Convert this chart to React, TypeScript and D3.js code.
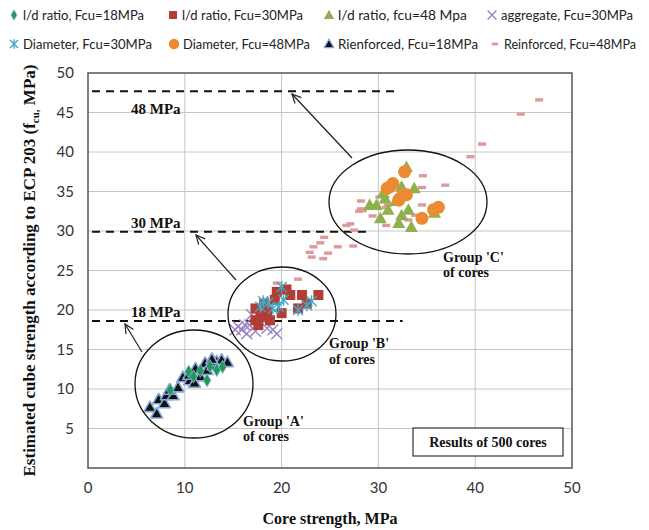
import React from "react";
import * as d3 from "d3";

type P = [number, number];

// l/d ratio, Fcu=18MPa
const ld18: P[] = [[8.5, 9.9], [10.4, 12.2], [10.9, 11.6], [11.6, 12.3], [12.3, 11.1], [13.3, 12.4], [13.9, 12.8], [12.6, 12.9]];
// l/d ratio, Fcu=30MPa
const ld30: P[] = [[19.5, 22.3], [20.9, 21.9], [22.1, 21.9], [23.8, 21.9], [19.3, 21.3], [17.3, 20.2], [18.5, 19.8], [17.8, 19.2], [20.0, 19.6], [17.3, 18.7], [17.6, 18.1], [18.8, 18.7], [22.6, 20.8], [21.7, 20.2], [18.2, 20.8], [20.5, 22.6]];
// l/d ratio, fcu=48 Mpa
const ld48: P[] = [[32.9, 38.1], [30.5, 34.8], [32.4, 35.6], [33.7, 35.4], [29.1, 33.3], [29.8, 33.3], [30.7, 34.1], [31.0, 32.7], [30.2, 31.6], [32.1, 31.0], [32.4, 32.0], [33.1, 32.7], [33.4, 30.5], [35.8, 32.3], [31.8, 33.8]];
// aggregate, Fcu=30MPa
const agg30: P[] = [[15.5, 17.9], [16.2, 18.1], [16.7, 18.1], [17.4, 18.1], [18.1, 18.7], [19.1, 17.5], [18.5, 17.7], [15.2, 17.5], [15.9, 17.5], [17.3, 17.3], [17.8, 19.8], [16.9, 19.4], [19.5, 17.0], [16.4, 17.0]];
// Diameter, Fcu=30MPa
const dia30: P[] = [[20.0, 22.9], [18.1, 21.1], [20.2, 21.3], [19.1, 20.2], [23.1, 21.1], [22.6, 20.6], [21.7, 20.0], [17.8, 20.4], [19.7, 20.4], [18.6, 20.9]];
// Diameter, Fcu=48MPa
const dia48: P[] = [[32.7, 37.5], [31.2, 35.6], [31.5, 36.0], [30.9, 35.4], [32.2, 34.1], [32.6, 34.6], [32.9, 34.6], [32.1, 33.9], [34.5, 31.6], [35.7, 32.7], [36.2, 33.0]];
// Rienforced, Fcu=18MPa
const rein18: P[] = [[6.4, 7.7], [7.1, 6.9], [7.3, 8.7], [7.9, 8.2], [8.1, 9.2], [8.8, 9.2], [8.4, 9.9], [9.3, 10.2], [9.8, 11.5], [10.5, 11.1], [10.4, 11.8], [11.1, 12.6], [11.6, 11.6], [12.1, 13.3], [12.3, 12.4], [12.9, 13.0], [13.3, 13.5], [13.8, 13.7], [12.8, 13.8], [11.0, 10.8], [14.4, 13.4]];
// Reinforced, Fcu=48MPa
const rein48: P[] = [[46.6, 46.6], [44.7, 44.8], [40.7, 41.0], [39.5, 39.4], [34.6, 37.0], [36.9, 35.8], [34.5, 35.5], [30.1, 34.3], [28.2, 33.8], [28.2, 32.8], [28.4, 32.6], [28.0, 32.5], [31.0, 33.3], [30.8, 33.0], [29.4, 31.9], [34.5, 33.3], [33.8, 32.0], [33.1, 31.4], [30.8, 30.7], [26.7, 30.7], [27.1, 30.9], [27.5, 30.1], [24.4, 29.2], [24.0, 28.5], [23.3, 28.0], [25.8, 28.0], [27.4, 28.1], [24.8, 27.2], [22.9, 27.3], [23.1, 26.7], [24.3, 26.5], [19.5, 23.4], [21.7, 23.9]];

const xTicks = [0, 10, 20, 30, 40, 50];
const yTicks = [5, 10, 15, 20, 25, 30, 35, 40, 45, 50];

// Reference strength levels: value, dashed line end (x), label and its baseline value
const refLevels = [
  { v: 47.7, end: 32.2, label: "48 MPa", labelY: 45.5 },
  { v: 29.9, end: 29.1, label: "30 MPa", labelY: 31.0 },
  { v: 18.6, end: 32.5, label: "18 MPa", labelY: 19.8 },
];

const W = 649;
const H = 530;
const left = 88, right = 572, top = 73, bottom = 468;

const x = d3.scaleLinear().domain([0, 50]).range([left, right]);
const y = d3.scaleLinear().domain([0, 50]).range([bottom, top]);

const SERIF = "'Liberation Serif', 'Times New Roman', serif";
const SANS = "Lato, 'Open Sans', 'Liberation Sans', sans-serif";

type Kind = "diamond" | "square" | "triangle" | "x" | "asterisk" | "circle" | "btriangle" | "dash";

const C = {
  diamond: "#1f9a55",
  square: "#b23d35",
  triangle: "#8fb04d",
  x: "#9a84c2",
  asterisk: "#3eaac6",
  circle: "#ec8a33",
  btriangle: "#111111",
  dash: "#dd9a9a",
};

function Marker({ kind, cx, cy, s = 1 }: { kind: Kind; cx: number; cy: number; s?: number }) {
  switch (kind) {
    case "diamond":
      return <path d={d3.symbol(d3.symbolDiamond, 50 * s * s)()!} transform={`translate(${cx},${cy})`} fill={C.diamond} stroke="#8fb2e0" strokeWidth={0.8} />;
    case "square":
      return <rect x={cx - 5 * s} y={cy - 5 * s} width={10 * s} height={10 * s} fill={C.square} />;
    case "triangle":
      return <path d={`M${cx},${cy - 6.5 * s}L${cx + 6.5 * s},${cy + 5 * s}L${cx - 6.5 * s},${cy + 5 * s}Z`} fill={C.triangle} />;
    case "btriangle":
      return <path d={`M${cx},${cy - 6 * s}L${cx + 6 * s},${cy + 4.5 * s}L${cx - 6 * s},${cy + 4.5 * s}Z`} fill={C.btriangle} stroke="#86a8d8" strokeWidth={1.6 * s} strokeLinejoin="round" />;
    case "x":
      return (
        <g stroke={C.x} strokeWidth={1.4}>
          <line x1={cx - 5.5 * s} y1={cy - 5.5 * s} x2={cx + 5.5 * s} y2={cy + 5.5 * s} />
          <line x1={cx - 5.5 * s} y1={cy + 5.5 * s} x2={cx + 5.5 * s} y2={cy - 5.5 * s} />
        </g>
      );
    case "asterisk":
      return (
        <g stroke={C.asterisk} strokeWidth={1.4}>
          <line x1={cx - 5 * s} y1={cy - 5 * s} x2={cx + 5 * s} y2={cy + 5 * s} />
          <line x1={cx - 5 * s} y1={cy + 5 * s} x2={cx + 5 * s} y2={cy - 5 * s} />
          <line x1={cx} y1={cy - 6 * s} x2={cx} y2={cy + 6 * s} />
        </g>
      );
    case "circle":
      return <circle cx={cx} cy={cy} r={6.5 * s} fill={C.circle} />;
    case "dash":
      return <rect x={cx - 4 * s} y={cy - 1.7 * s} width={8 * s} height={3.4 * s} fill={C.dash} />;
  }
}

const seriesDraw: { data: P[]; kind: Kind }[] = [
  { data: rein48, kind: "dash" },
  { data: agg30, kind: "x" },
  { data: ld30, kind: "square" },
  { data: dia30, kind: "asterisk" },
  { data: ld48, kind: "triangle" },
  { data: dia48, kind: "circle" },
  { data: rein18, kind: "btriangle" },
  { data: ld18, kind: "diamond" },
];

// legend: marker x, text span end, row
const legendItems: { kind: Kind; label: string; lx: number; tx2: number; row: number }[] = [
  { kind: "diamond", label: "l/d ratio, Fcu=18MPa", lx: 14, tx2: 144, row: 0 },
  { kind: "square", label: "l/d ratio, Fcu=30MPa", lx: 173, tx2: 303, row: 0 },
  { kind: "triangle", label: "l/d ratio, fcu=48  Mpa", lx: 329, tx2: 467, row: 0 },
  { kind: "x", label: "aggregate, Fcu=30MPa", lx: 492, tx2: 633, row: 0 },
  { kind: "asterisk", label: "Diameter, Fcu=30MPa", lx: 14, tx2: 152, row: 1 },
  { kind: "circle", label: "Diameter, Fcu=48MPa", lx: 174, tx2: 310, row: 1 },
  { kind: "btriangle", label: "Rienforced, Fcu=18MPa", lx: 329, tx2: 478, row: 1 },
  { kind: "dash", label: "Reinforced, Fcu=48MPa", lx: 495, tx2: 636, row: 1 },
];

function Arrow({ x1, y1, x2, y2 }: { x1: number; y1: number; x2: number; y2: number }) {
  const a = Math.atan2(y2 - y1, x2 - x1);
  const L = 10, sp = 0.45;
  const p1 = [x2 - L * Math.cos(a - sp), y2 - L * Math.sin(a - sp)];
  const p2 = [x2 - L * Math.cos(a + sp), y2 - L * Math.sin(a + sp)];
  return (
    <g stroke="#222" strokeWidth={1.2} fill="none">
      <line x1={x1} y1={y1} x2={x2} y2={y2} />
      <polyline points={`${p1[0]},${p1[1]} ${x2},${y2} ${p2[0]},${p2[1]}`} />
    </g>
  );
}

export default function App() {
  return (
    <svg width={W} height={H} style={{ display: "block", position: "absolute", left: 0, top: 0, background: "#fff" }}>
      <rect width={W} height={H} fill="#fff" />
      {/* legend */}
      {legendItems.map((it, i) => {
        const ly = it.row === 0 ? 15 : 44;
        const tx = it.lx + 9;
        return (
          <g key={i}>
            <Marker kind={it.kind} cx={it.lx} cy={ly} s={0.8} />
            <text x={tx} y={ly + 5} fontFamily={SANS} fontSize={13} fill="#222" textLength={it.tx2 - tx} lengthAdjust="spacingAndGlyphs">{it.label}</text>
          </g>
        );
      })}

      {/* grid */}
      {xTicks.slice(1, -1).map((t) => (
        <line key={"gx" + t} x1={x(t)} x2={x(t)} y1={top} y2={bottom} stroke="#c6c6c6" strokeWidth={1} />
      ))}
      {yTicks.slice(0, -1).map((t) => (
        <line key={"gy" + t} x1={left} x2={right} y1={y(t)} y2={y(t)} stroke="#c6c6c6" strokeWidth={1} />
      ))}

      {/* ticks */}
      {xTicks.map((t) => (
        <text key={"tx" + t} x={x(t)} y={493} textAnchor="middle" fontFamily={SANS} fontSize={15} fill="#333">{t}</text>
      ))}
      {yTicks.map((t) => (
        <text key={"ty" + t} x={74} y={y(t) + 5} textAnchor="end" fontFamily={SANS} fontSize={15} fill="#333">{t}</text>
      ))}

      {/* reference levels */}
      {refLevels.map((r, i) => (
        <g key={"r" + i}>
          <line x1={x(0) + 4} x2={x(r.end)} y1={y(r.v)} y2={y(r.v)} stroke="#111" strokeWidth={2} strokeDasharray="8,6" />
          <text x={131} y={y(r.labelY) + 5} fontFamily={SERIF} fontWeight="bold" fontSize={15} fill="#111">{r.label}</text>
        </g>
      ))}

      {/* points */}
      {seriesDraw.map((s, i) => (
        <g key={"s" + i}>
          {s.data.map((p, j) => (
            <Marker key={j} kind={s.kind} cx={x(p[0])} cy={y(p[1])} />
          ))}
        </g>
      ))}

      {/* group ellipses */}
      <g fill="none" stroke="#111" strokeWidth={1.3}>
        <ellipse cx={194} cy={384} rx={59} ry={54} />
        <ellipse cx={282} cy={314} rx={54} ry={47} />
        <ellipse cx={408} cy={202} rx={79} ry={52} />
      </g>
      <Arrow x1={142} y1={352} x2={125} y2={324} />
      <Arrow x1={236} y1={280} x2={196} y2={235} />
      <Arrow x1={352} y1={158} x2={292} y2={94} />

      <g fontFamily={SERIF} fontWeight="bold" fontSize={14} fill="#111">
        <text x={243} y={426}>Group 'A'</text>
        <text x={243} y={441}>of cores</text>
        <text x={329} y={348}>Group 'B'</text>
        <text x={329} y={364}>of cores</text>
        <text x={443} y={262}>Group 'C'</text>
        <text x={443} y={277}>of cores</text>
      </g>

      {/* note box */}
      <rect x={413} y={428} width={150} height={28} fill="#fff" stroke="#333" strokeWidth={1.2} />
      <text x={488} y={447} textAnchor="middle" fontFamily={SERIF} fontWeight="bold" fontSize={14} fill="#111">Results of 500 cores</text>

      {/* frame */}
      <rect x={left} y={top} width={right - left} height={bottom - top} fill="none" stroke="#555" strokeWidth={1.5} />

      {/* axis titles */}
      <text x={330} y={524} textAnchor="middle" fontFamily={SERIF} fontWeight="bold" fontSize={16} fill="#111">Core strength, MPa</text>
      <text transform={`translate(35,${(top + bottom) / 2}) rotate(-90)`} textAnchor="middle" fontFamily={SERIF} fontWeight="bold" fontSize={17} fill="#111">
        Estimated cube strength according to ECP 203 (f
        <tspan fontSize={11} dy={4}>cu,</tspan>
        <tspan dy={-4}> MPa)</tspan>
      </text>
    </svg>
  );
}
